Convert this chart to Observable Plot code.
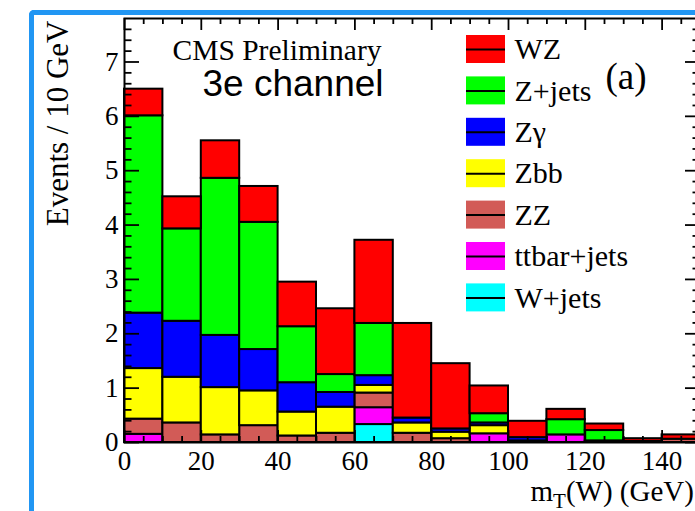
<!DOCTYPE html>
<html><head><meta charset="utf-8">
<script src="https://cdn.jsdelivr.net/npm/d3@7"></script>
<script src="https://cdn.jsdelivr.net/npm/@observablehq/plot@0.6"></script>
<style>
html,body{margin:0;padding:0;background:#fff;overflow:hidden;}
#wrap{position:relative;width:695px;height:511px;overflow:hidden;background:#fff;}
#border{position:absolute;left:29px;top:10px;width:800px;height:600px;border-left:5px solid #2196f3;border-top:5px solid #2196f3;border-top-left-radius:5px;pointer-events:none;z-index:2;box-sizing:border-box;}
</style></head><body>
<div id="wrap"><div id="border"></div></div>
<script>
// ---- data ----
const binStarts = [0,10,20,30,40,50,60,70,80,90,100,110,120,130,140];
const binWidth = 10;
const seriesNames = ["W+jets","ttbar+jets","ZZ","Zbb","Zγ","Z+jets","WZ"]; // stack order, bottom -> top
const seriesColors = ["#00ffff","#ff00ff","#d25b57","#ffff00","#0000ff","#00ff00","#ff0000"];
const wjets  = [0,0,0,0,0,0,0.33,0,0,0,0,0,0,0,0];
const ttbar  = [0.15,0,0,0,0,0,0.31,0,0,0.16,0,0.14,0,0,0];
const zz     = [0.28,0.36,0.14,0.31,0.12,0.17,0.27,0.17,0.07,0,0.03,0,0.01,0.02,0.06];
const zbb    = [0.93,0.84,0.87,0.64,0.44,0.48,0.14,0.19,0.12,0.15,0,0,0.02,0,0];
const zgamma = [1.02,1.03,0.96,0.76,0.54,0.27,0.18,0.09,0.06,0.05,0.06,0,0,0,0];
const zjets  = [3.63,1.70,2.89,2.34,1.03,0.33,0.96,0,0,0.17,0,0.28,0.19,0,0];
const wz     = [0.49,0.59,0.69,0.66,0.82,1.21,1.53,1.74,1.20,0.51,0.30,0.19,0.12,0.05,0.08];
const legendOrder = ["WZ","Z+jets","Zγ","Zbb","ZZ","ttbar+jets","W+jets"];
const xTickLabels = [0,20,40,60,80,100,120,140];
const yTickLabels = [0,1,2,3,4,5,6,7];
const xMinorTicks = d3.range(5,150,5).filter(v => v % 20 !== 0);
const yMinorTicks = d3.range(1,39).map(i => i/5).filter(v => !Number.isInteger(v));

// ---- layout ----
const W = 705, H = 511, ML = 124, MR = 5, MT = 18, MB = 69;
const xMax = 150, yMax = 7.8;
const pxX = (W - ML - MR) / xMax;
const pxY = (H - MT - MB) / yMax;
const px2x = p => (p - ML) / pxX;
const px2y = p => (H - MB - p) / pxY;
const serif = "Liberation Serif, Times New Roman, serif";
const sans = "Liberation Sans, Arial, sans-serif";

const seriesValues = [wjets, ttbar, zz, zbb, zgamma, zjets, wz];
const rows = [];
seriesNames.forEach((name, s) => seriesValues[s].forEach((v, i) => {
  if (v > 0) rows.push({series: name, x1: binStarts[i], x2: binStarts[i] + binWidth, value: v});
}));

// legend geometry
const legTop = 35, legStep = 41.4, legBoxH = 28;
const legX1 = px2x(466), legX2 = px2x(505), legTextX = px2x(514);
const legY1 = (d, i) => px2y(legTop + i * legStep + legBoxH);
const legY2 = (d, i) => px2y(legTop + i * legStep);
const legYc = (d, i) => px2y(legTop + i * legStep + legBoxH / 2);

const majX = 12 / pxY, minX = 6 / pxY;   // x-axis tick lengths (y units)
const majY = 15 / pxX, minY = 7.5 / pxX; // y-axis tick lengths (x units)
const tk = {stroke: "black", strokeWidth: 1.8};

const plot = Plot.plot({
  width: W, height: H,
  marginLeft: ML, marginRight: MR, marginTop: MT, marginBottom: MB,
  x: {domain: [0, xMax], axis: null},
  y: {domain: [0, yMax], axis: null},
  color: {domain: seriesNames, range: seriesColors},
  style: {maxWidth: "none", background: "white", overflow: "visible"},
  marks: [
    Plot.rectY(rows, {x1: "x1", x2: "x2", y: "value", fill: "series", stroke: "black", strokeWidth: 2}),
    // ticks bottom / top
    Plot.ruleX(xTickLabels, {x: d => d, y1: 0, y2: majX, ...tk}),
    Plot.ruleX(xMinorTicks, {x: d => d, y1: 0, y2: minX, ...tk}),
    Plot.ruleX(xTickLabels, {x: d => d, y1: yMax - majX, y2: yMax, ...tk}),
    Plot.ruleX(xMinorTicks, {x: d => d, y1: yMax - minX, y2: yMax, ...tk}),
    // ticks left / right
    Plot.ruleY(yTickLabels, {y: d => d, x1: 0, x2: majY, ...tk}),
    Plot.ruleY(yMinorTicks, {y: d => d, x1: 0, x2: minY, ...tk}),
    Plot.ruleY(yTickLabels, {y: d => d, x1: xMax - majY, x2: xMax, ...tk}),
    Plot.ruleY(yMinorTicks, {y: d => d, x1: xMax - minY, x2: xMax, ...tk}),
    Plot.frame({stroke: "black", strokeWidth: 2}),
    // tick labels
    Plot.text(xTickLabels, {x: d => d, y: 0, text: d => String(d), dy: 19, lineAnchor: "middle", fontSize: 27, fontFamily: serif, fill: "black"}),
    Plot.text(yTickLabels, {x: 0, y: d => d, text: d => String(d), dx: -6, textAnchor: "end", lineAnchor: "middle", fontSize: 27, fontFamily: serif, fill: "black"}),
    // axis titles
    Plot.text(["Events / 10 GeV"], {frameAnchor: "top-left", text: d => d, dx: -57, dy: 2, rotate: -90, textAnchor: "end", lineAnchor: "bottom", fontSize: 31, fontFamily: serif, fill: "black"}),
    Plot.text(["m_T(W) (GeV)"], {frameAnchor: "bottom-left", text: d => d, dx: 406, dy: 58, textAnchor: "start", lineAnchor: "bottom", fontSize: 29, fontFamily: serif, fill: "black"}),
    // annotations
    Plot.text(["CMS Preliminary"], {frameAnchor: "top-left", text: d => d, dx: 48, dy: 41, textAnchor: "start", lineAnchor: "bottom", fontSize: 29.5, fontFamily: serif, fill: "black"}),
    Plot.text(["3e channel"], {frameAnchor: "top-left", text: d => d, dx: 78, dy: 77, textAnchor: "start", lineAnchor: "bottom", fontSize: 37, fontFamily: sans, fill: "black"}),
    Plot.text(["(a)"], {frameAnchor: "top-left", text: d => d, dx: 481, dy: 70, textAnchor: "start", lineAnchor: "bottom", fontSize: 37, fontFamily: serif, fill: "black"}),
    // legend
    Plot.rect(legendOrder, {x1: legX1, x2: legX2, y1: legY1, y2: legY2, fill: d => d}),
    Plot.ruleY(legendOrder, {y: legYc, x1: legX1, x2: legX2, stroke: "black", strokeWidth: 2}),
    Plot.text(legendOrder, {x: legTextX, y: legYc, text: d => d, textAnchor: "start", lineAnchor: "middle", fontSize: 30, fontFamily: serif, fill: "black"})
  ]
});

// subscript T in the x-axis title
plot.querySelectorAll("text").forEach(t => {
  if (t.textContent === "m_T(W) (GeV)") {
    t.innerHTML = 'm<tspan dy="7" font-size="21">T</tspan><tspan dy="-7">(W) (GeV)</tspan>';
  }
});

document.getElementById("wrap").prepend(plot);
</script>
</body></html>
